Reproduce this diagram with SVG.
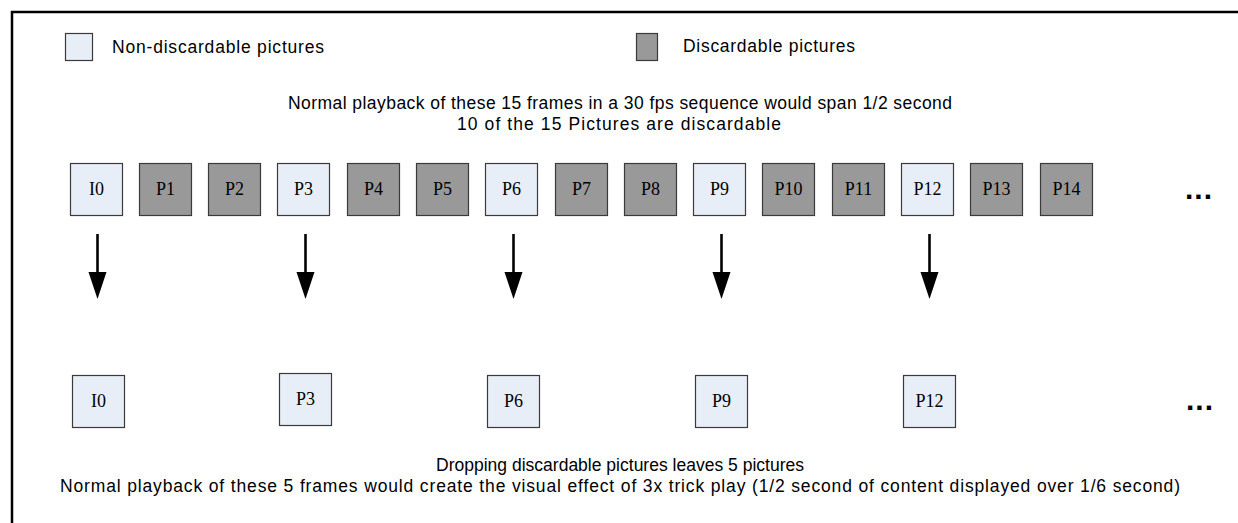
<svg xmlns="http://www.w3.org/2000/svg" width="1238" height="523" viewBox="0 0 1238 523">
<style>
.nd{fill:#E8EEF8;stroke:#3a3a3a;stroke-width:1.2}
.d{fill:#999999;stroke:#3a3a3a;stroke-width:1.2}
.lbl{font-family:"Liberation Serif","Times New Roman",serif;font-size:18px;fill:#000;text-anchor:middle}
.t{font-family:"Liberation Sans",Arial,sans-serif;font-size:17.5px;fill:#000}
.c{text-anchor:middle}
.dots{font-family:"Liberation Sans",Arial,sans-serif;font-size:30px;font-weight:bold;fill:#000;letter-spacing:1px}
.ar{stroke:#000;stroke-width:2.6;fill:none}
.hd{fill:#000}
</style>
<rect x="0" y="0" width="1238" height="523" fill="#fff"/>
<path d="M12,523 L12,12 L1238,12" fill="none" stroke="#000" stroke-width="2.5"/>

<g id="legend">
<rect class="nd" x="65.5" y="33.5" width="27" height="27"/>
<text class="t" x="112" y="53" textLength="212" lengthAdjust="spacing">Non-discardable pictures</text>
<rect class="d" x="636.5" y="33.5" width="21" height="27"/>
<text class="t" x="683" y="52" textLength="172" lengthAdjust="spacing">Discardable pictures</text>
</g>

<g id="caption-top">
<text class="t c" x="620" y="109" textLength="664" lengthAdjust="spacing">Normal playback of these 15 frames in a 30 fps sequence would span 1/2 second</text>
<text class="t c" x="619" y="130" textLength="324" lengthAdjust="spacing">10 of the 15 Pictures are discardable</text>
</g>

<g id="top-I0"><rect class="nd" x="70.5" y="163.5" width="52" height="52"/><text class="lbl" x="96.5" y="195">I0</text></g>
<g id="top-P1"><rect class="d" x="139.5" y="163.5" width="52" height="52"/><text class="lbl" x="165.5" y="195">P1</text></g>
<g id="top-P2"><rect class="d" x="208.5" y="163.5" width="52" height="52"/><text class="lbl" x="234.5" y="195">P2</text></g>
<g id="top-P3"><rect class="nd" x="277.5" y="163.5" width="52" height="52"/><text class="lbl" x="303.5" y="195">P3</text></g>
<g id="top-P4"><rect class="d" x="347.5" y="163.5" width="52" height="52"/><text class="lbl" x="373.5" y="195">P4</text></g>
<g id="top-P5"><rect class="d" x="416.5" y="163.5" width="52" height="52"/><text class="lbl" x="442.5" y="195">P5</text></g>
<g id="top-P6"><rect class="nd" x="485.5" y="163.5" width="52" height="52"/><text class="lbl" x="511.5" y="195">P6</text></g>
<g id="top-P7"><rect class="d" x="555.5" y="163.5" width="52" height="52"/><text class="lbl" x="581.5" y="195">P7</text></g>
<g id="top-P8"><rect class="d" x="624.5" y="163.5" width="52" height="52"/><text class="lbl" x="650.5" y="195">P8</text></g>
<g id="top-P9"><rect class="nd" x="693.5" y="163.5" width="52" height="52"/><text class="lbl" x="719.5" y="195">P9</text></g>
<g id="top-P10"><rect class="d" x="762.5" y="163.5" width="52" height="52"/><text class="lbl" x="788.5" y="195">P10</text></g>
<g id="top-P11"><rect class="d" x="832.5" y="163.5" width="52" height="52"/><text class="lbl" x="858.5" y="195">P11</text></g>
<g id="top-P12"><rect class="nd" x="901.5" y="163.5" width="52" height="52"/><text class="lbl" x="927.5" y="195">P12</text></g>
<g id="top-P13"><rect class="d" x="970.5" y="163.5" width="52" height="52"/><text class="lbl" x="996.5" y="195">P13</text></g>
<g id="top-P14"><rect class="d" x="1040.5" y="163.5" width="52" height="52"/><text class="lbl" x="1066.5" y="195">P14</text></g>
<g id="top-more"><text class="dots" x="1185" y="199">...</text></g>

<g id="connectors">
<line class="ar" x1="97.5" y1="234" x2="97.5" y2="274"/><path class="hd" d="M88.5,272 L106.5,272 L97.5,299 z"/>
<line class="ar" x1="305.5" y1="234" x2="305.5" y2="274"/><path class="hd" d="M296.5,272 L314.5,272 L305.5,299 z"/>
<line class="ar" x1="513.5" y1="234" x2="513.5" y2="274"/><path class="hd" d="M504.5,272 L522.5,272 L513.5,299 z"/>
<line class="ar" x1="721.5" y1="234" x2="721.5" y2="274"/><path class="hd" d="M712.5,272 L730.5,272 L721.5,299 z"/>
<line class="ar" x1="929.5" y1="234" x2="929.5" y2="274"/><path class="hd" d="M920.5,272 L938.5,272 L929.5,299 z"/>
</g>

<g id="bot-I0"><rect class="nd" x="72.5" y="375.5" width="52" height="52"/><text class="lbl" x="98.5" y="407">I0</text></g>
<g id="bot-P3"><rect class="nd" x="279.5" y="373.5" width="52" height="52"/><text class="lbl" x="305.5" y="405">P3</text></g>
<g id="bot-P6"><rect class="nd" x="487.5" y="375.5" width="52" height="52"/><text class="lbl" x="513.5" y="407">P6</text></g>
<g id="bot-P9"><rect class="nd" x="695.5" y="375.5" width="52" height="52"/><text class="lbl" x="721.5" y="407">P9</text></g>
<g id="bot-P12"><rect class="nd" x="903.5" y="375.5" width="52" height="52"/><text class="lbl" x="929.5" y="407">P12</text></g>
<g id="bot-more"><text class="dots" x="1186" y="410">...</text></g>

<g id="caption-bottom">
<text class="t c" x="620" y="471" textLength="368" lengthAdjust="spacing">Dropping discardable pictures leaves 5 pictures</text>
<text class="t c" x="620" y="492" textLength="1120" lengthAdjust="spacing">Normal playback of these 5 frames would create the visual effect of 3x trick play (1/2 second of content displayed over 1/6 second)</text>
</g>
</svg>
